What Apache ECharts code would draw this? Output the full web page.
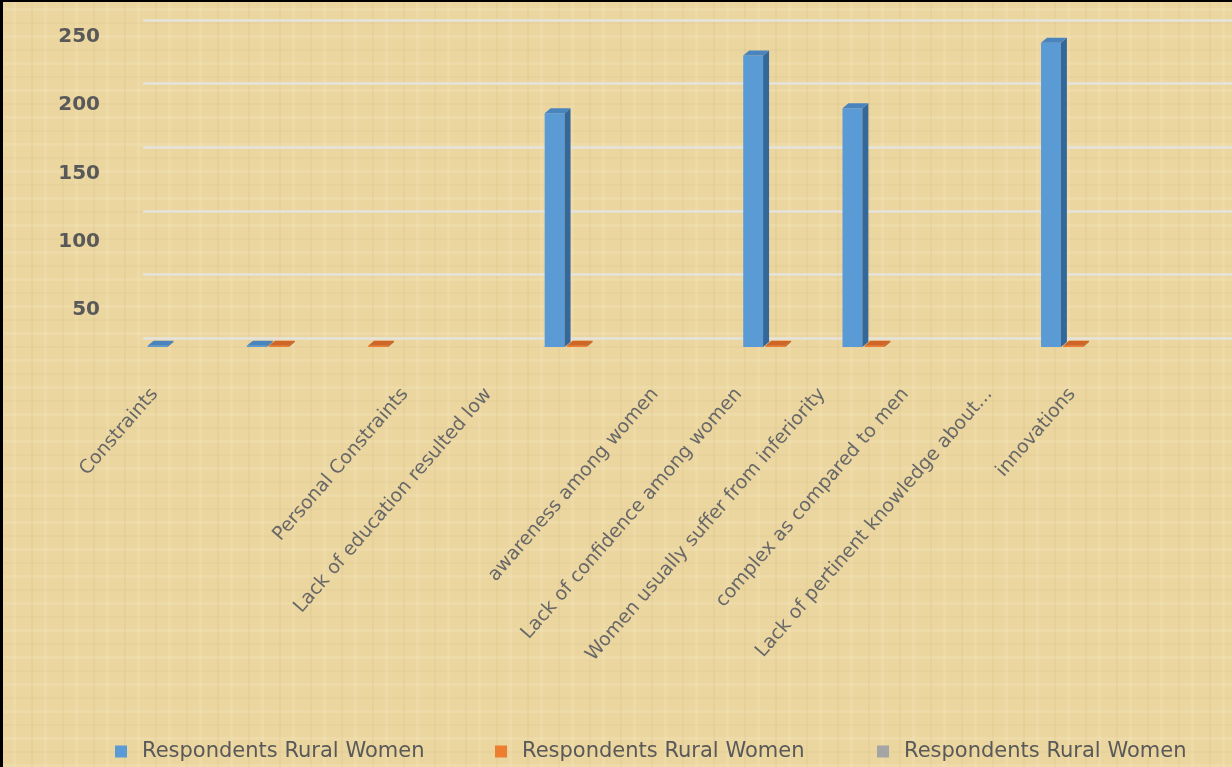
<!DOCTYPE html>
<html>
<head>
<meta charset="utf-8">
<title>Respondents Rural Women</title>
<script src="https://cdn.jsdelivr.net/npm/echarts@6/dist/echarts.min.js"></script>
<style>
  html, body { margin: 0; padding: 0; }
  body { background: #EBD6A0; }
  #wrap { position: relative; width: 1232px; height: 767px; overflow: hidden;
    background-color: #EBD6A0;
    background-image:
      repeating-linear-gradient(90deg, rgba(150,110,40,0.05) 0 2px, transparent 2px 13px, rgba(255,248,220,0.12) 13px 16px, transparent 16px 31px),
      repeating-linear-gradient(0deg, rgba(255,250,225,0.12) 0 3px, transparent 3px 14px, rgba(150,110,40,0.04) 14px 16px, transparent 16px 27px);
  }
  #chart { position: absolute; left: 0; top: 0; width: 1232px; height: 767px; }
  #frame { position: absolute; left: 0; top: 0; width: 1232px; height: 767px; box-sizing: border-box;
    border-left: 3px solid #000; border-top: 2px solid #000; pointer-events: none; }
</style>
</head>
<body>
<div id="wrap">
  <div id="chart"></div>
  <div id="frame"></div>
</div>
<script>
// category slots the columns sit in (3D chart, 11 slots)
var slots = ['0', '1', '2', '3', '4', '5', '6', '7', '8', '9', '10'];
// tick labels under the floor (Excel wrapped the long names over two rows)
var tickLabels = ['Constraints', '', '', 'Personal Constraints', 'Lack of education resulted low', '',
  'awareness among women', 'Lack of confidence among women', 'Women usually suffer from inferiority',
  'complex as compared to men', 'Lack of pertinent knowledge about...', 'innovations'];
var seriesLabel = 'Respondents Rural Women';
var blueValues = [1, 1, null, null, 182, null, 227, 186, null, 237, null];
var orangeValues = [null, 1, 1, null, 1, null, 1, 1, null, 1, null];
var greyValues = [null, null, null, null, null, null, null, null, null, null, null];
var yTicks = [0, 50, 100, 150, 200, 250];

var colors = [
  { front: '#5B9BD5', side: '#34679A', top: '#4A84BE' },
  { front: '#ED7D31', side: '#B35419', top: '#CF6526' },
  { front: '#A5A5A5', side: '#7C7C7C', top: '#939393' }
];

function bar3d(idx) {
  return function (params, api) {
    var val = api.value(1);
    if (val == null || isNaN(val)) return;
    var base = api.coord([api.value(0), 0]);
    var top = api.coord([api.value(0), val]);
    var band = api.size([1, 0])[0];
    var slot = band * 0.222;
    var fw = band * 0.2, dx = 6, dy = 5;
    var x0 = base[0] + (idx - 1.5) * slot;
    var c = colors[idx];
    return {
      type: 'group',
      children: [
        { type: 'rect', shape: { x: x0, y: top[1], width: fw, height: base[1] - top[1] }, style: { fill: c.front } },
        { type: 'polygon', shape: { points: [[x0 + fw, top[1]], [x0 + fw + dx, top[1] - dy], [x0 + fw + dx, base[1] - dy], [x0 + fw, base[1]]] }, style: { fill: c.side } },
        { type: 'polygon', shape: { points: [[x0, top[1]], [x0 + dx, top[1] - dy], [x0 + fw + dx, top[1] - dy], [x0 + fw, top[1]]] }, style: { fill: c.top } }
      ]
    };
  };
}

function toPairs(arr) {
  return arr.map(function (v, i) { return [i, v]; });
}

// three identical names: pad with spaces so the legend keeps them apart
var names = [seriesLabel, seriesLabel + ' ', seriesLabel + '  '];
var valueSets = [blueValues, orangeValues, greyValues];

var chart = echarts.init(document.getElementById('chart'));

var legendBase = {
  orient: 'horizontal', top: 736, icon: 'rect', itemWidth: 12, itemHeight: 12,
  selectedMode: false,
  formatter: function (n) { return n.trim(); },
  textStyle: { color: '#595959', fontSize: 21, fontFamily: '"DejaVu Sans", sans-serif', padding: [0, 0, 0, 10] }
};

chart.setOption({
  backgroundColor: 'transparent',
  animation: false,
  legend: [
    Object.assign({}, legendBase, { left: 110, data: [names[0]] }),
    Object.assign({}, legendBase, { left: 490, data: [names[1]] }),
    Object.assign({}, legendBase, { left: 872, data: [names[2]] })
  ],
  grid: [
    { left: 131, width: 1092, top: 26, height: 321 },  // columns
    { left: 143, right: 0, top: 20, height: 318 },     // back wall gridlines
    { left: 108, width: 10, top: 37, height: 341 },    // value labels
    { left: 113, width: 1001, top: 100, height: 283 }  // category labels
  ],
  xAxis: [
    { gridIndex: 0, type: 'category', data: slots, show: false },
    { gridIndex: 1, type: 'category', data: slots, show: false },
    { gridIndex: 2, type: 'category', data: slots, show: false },
    {
      gridIndex: 3, type: 'category', data: tickLabels,
      axisLine: { show: false }, axisTick: { show: false },
      axisLabel: { interval: 0, rotate: 49, margin: 8, color: '#686868', fontSize: 19, fontFamily: '"DejaVu Sans", sans-serif' }
    }
  ],
  yAxis: [
    { gridIndex: 0, type: 'value', min: 0, max: 250, show: false },
    {
      gridIndex: 1, type: 'value', min: 0, max: 250, interval: 50,
      axisLine: { show: false }, axisTick: { show: false }, axisLabel: { show: false },
      splitLine: { show: true, lineStyle: { color: 'rgba(228,228,224,0.95)', width: 2.5 } }
    },
    {
      gridIndex: 2, type: 'value', min: yTicks[0], max: yTicks[yTicks.length - 1], interval: 50,
      axisLine: { show: false }, axisTick: { show: false }, splitLine: { show: false },
      axisLabel: {
        margin: 8, color: '#595959', fontSize: 20, fontWeight: 'bold', fontFamily: '"DejaVu Sans", sans-serif',
        formatter: function (v) { return v === 0 ? '' : String(v); }
      }
    },
    { gridIndex: 3, type: 'value', show: false }
  ],
  series: valueSets.map(function (vals, i) {
    return {
      name: names[i],
      type: 'custom',
      xAxisIndex: 0, yAxisIndex: 0,
      z: 10 - i,
      itemStyle: { color: colors[i].front },
      renderItem: bar3d(i),
      encode: { x: 0, y: 1 },
      data: toPairs(vals)
    };
  })
});
</script>
</body>
</html>
